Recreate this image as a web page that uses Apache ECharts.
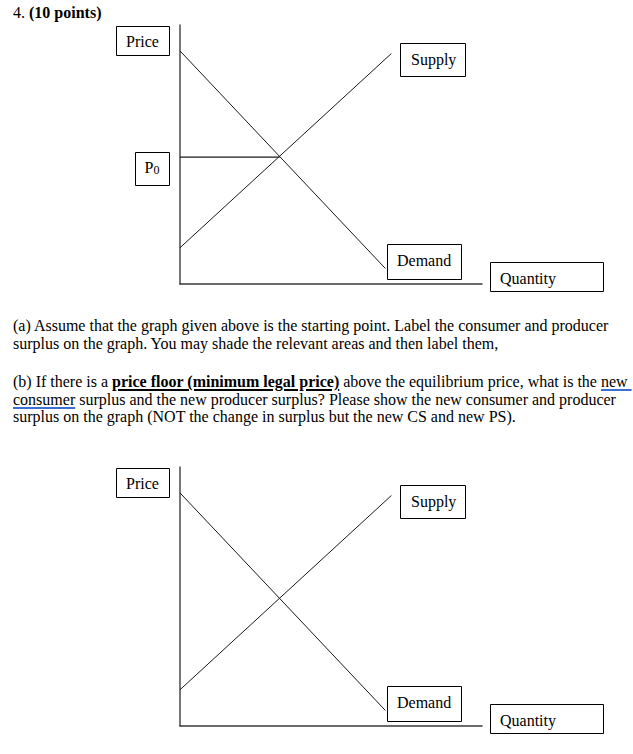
<!DOCTYPE html>
<html lang="en">
<head>
<meta charset="utf-8">
<title>Question 4 - supply and demand</title>
<script src="https://cdn.jsdelivr.net/npm/echarts@6/dist/echarts.min.js"></script>
<style>
  body { margin: 0; background: #fff; }
  #page { position: relative; width: 633px; height: 754px; overflow: hidden;
          font-family: "Liberation Serif", "Times New Roman", serif; font-size: 16px; color: #000; }
  #chart { position: absolute; left: 0; top: 0; width: 633px; height: 754px; }
  .q { position: absolute; left: 13px; white-space: nowrap; line-height: 17.7px; }
  .ul { text-decoration: underline; text-decoration-thickness: 2px; text-underline-offset: 2px; }
  .spell { text-decoration: underline; text-decoration-color: #3c6fd4;
           text-decoration-thickness: 1.5px; text-underline-offset: 2px; }
</style>
</head>
<body>
<div id="page">
  <div id="chart"></div>
  <div class="q" style="top:4px">4. <b>(10 points)</b></div>
  <div class="q" style="top:317px">(a) Assume that the graph given above is the starting point. Label the consumer and producer<br>surplus on the graph. You may shade the relevant areas and then label them,</div>
  <div class="q" style="top:373px">(b) If there is a <b class="ul">price floor (minimum legal price)</b> above the equilibrium price, what is the <span class="spell">new&nbsp;</span><br><span class="spell">consumer</span> surplus and the new producer surplus? Please show the new consumer and producer<br>surplus on the graph (NOT the change in surplus but the new CS and new PS).</div>
</div>
<script type="text/javascript">
// both graphs use the same curves, axes run 0..100 on each side
var demand = [[0, 90], [68, 6]];
var supply = [[0, 14], [70, 89]];
var p0 = 49;        // equilibrium price
var qStar = 33;     // equilibrium quantity
var p0Line = [[0, p0], [qStar, p0]];

// label boxes: left, top, width, height, text x, text middle
var topBoxes = [
  { text: 'Price',    x: 116, y: 26,  w: 53,  h: 29, tx: 126, ty: 41.3 },
  { text: '{p|P}{s|0}', x: 135, y: 152, w: 34, h: 33, tx: 144.5, ty: 167.5 },
  { text: 'Supply',   x: 400, y: 43,  w: 65,  h: 33, tx: 411, ty: 59.7 },
  { text: 'Demand',   x: 387, y: 244, w: 74,  h: 35, tx: 397, ty: 260 },
  { text: 'Quantity', x: 490, y: 262, w: 113, h: 29, tx: 500, ty: 278 }
];
var shift = 442;    // second graph sits this far below the first

var chart = echarts.init(document.getElementById('chart'), null, { renderer: 'svg' });

function box(b, dy) {
  return {
    type: 'group',
    children: [
      { type: 'rect', shape: { x: b.x + 0.5, y: b.y + dy + 0.5, width: b.w, height: b.h },
        style: { fill: '#fff', stroke: '#000', lineWidth: 1 } },
      { type: 'text', x: b.tx, y: b.ty + dy,
        style: { text: b.text, fill: '#000', font: '16px "Liberation Serif", serif',
                 verticalAlign: 'middle', align: 'left',
                 rich: {
                   p: { fontSize: 16, fontFamily: 'Liberation Serif', verticalAlign: 'bottom' },
                   s: { fontSize: 12, fontFamily: 'Liberation Serif', verticalAlign: 'bottom' }
                 } } }
    ]
  };
}

var graphics = [];
topBoxes.forEach(function (b) { graphics.push(box(b, 0)); });
// the second graph has no P0 box
topBoxes.forEach(function (b) {
  if (b.text.indexOf('{') !== 0) graphics.push(box(b, shift));
});

function axisX(i) {
  return { type: 'value', gridIndex: i, min: 0, max: 100,
    axisLine: { show: true, lineStyle: { color: '#3a3a3a', width: 1.5 } },
    axisTick: { show: false }, axisLabel: { show: false }, splitLine: { show: false } };
}
function axisY(i) {
  return { type: 'value', gridIndex: i, min: 0, max: 100,
    axisLine: { show: true, lineStyle: { color: '#4a4a4a', width: 1.5 } },
    axisTick: { show: false }, axisLabel: { show: false }, splitLine: { show: false } };
}
function curve(data, i, w) {
  return { type: 'line', xAxisIndex: i, yAxisIndex: i, data: data, symbol: 'none',
    silent: true, clip: false, lineStyle: { color: '#1a1a1a', width: w || 1 } };
}

var option = {
  animation: false,
  grid: [
    { left: 180, top: 25, width: 302, height: 259 },
    { left: 180, top: 25 + shift, width: 302, height: 259 }
  ],
  xAxis: [axisX(0), axisX(1)],
  yAxis: [axisY(0), axisY(1)],
  series: [
    curve(demand, 0), curve(supply, 0), curve(p0Line, 0, 1.3),
    curve(demand, 1), curve(supply, 1)
  ],
  graphic: graphics
};
chart.setOption(option);
</script>
</body>
</html>
